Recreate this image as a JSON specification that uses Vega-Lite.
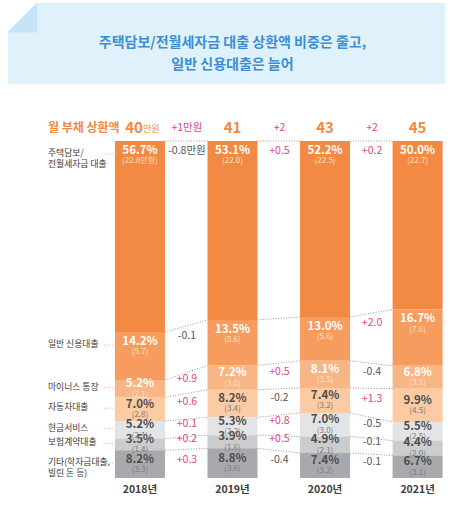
{
  "$schema": "https://vega.github.io/schema/vega-lite/v6.json",
  "width": 450,
  "height": 509,
  "autosize": {"type": "none"},
  "padding": 0,
  "datasets": {
    "rows": [
      {"year": 2018, "order": 1, "cat": "주택담보/\n전월세자금 대출", "share": 56.7, "amt": 22.8, "chg": -0.8},
      {"year": 2018, "order": 2, "cat": "일반 신용대출", "share": 14.2, "amt": 5.7, "chg": -0.1},
      {"year": 2018, "order": 3, "cat": "마이너스 통장", "share": 5.2, "amt": 2.1, "chg": 0.9},
      {"year": 2018, "order": 4, "cat": "자동차대출", "share": 7.0, "amt": 2.8, "chg": 0.6},
      {"year": 2018, "order": 5, "cat": "현금서비스", "share": 5.2, "amt": 2.1, "chg": 0.1},
      {"year": 2018, "order": 6, "cat": "보험계약대출", "share": 3.5, "amt": 1.4, "chg": 0.2},
      {"year": 2018, "order": 7, "cat": "기타(학자금대출,\n빌린 돈 등)", "share": 8.2, "amt": 3.3, "chg": 0.3},
      {"year": 2019, "order": 1, "cat": "주택담보/\n전월세자금 대출", "share": 53.1, "amt": 22.0, "chg": 0.5},
      {"year": 2019, "order": 2, "cat": "일반 신용대출", "share": 13.5, "amt": 5.6, "chg": null},
      {"year": 2019, "order": 3, "cat": "마이너스 통장", "share": 7.2, "amt": 3.0, "chg": 0.5},
      {"year": 2019, "order": 4, "cat": "자동차대출", "share": 8.2, "amt": 3.4, "chg": -0.2},
      {"year": 2019, "order": 5, "cat": "현금서비스", "share": 5.3, "amt": 2.2, "chg": 0.8},
      {"year": 2019, "order": 6, "cat": "보험계약대출", "share": 3.9, "amt": 1.6, "chg": 0.5},
      {"year": 2019, "order": 7, "cat": "기타(학자금대출,\n빌린 돈 등)", "share": 8.8, "amt": 3.6, "chg": -0.4},
      {"year": 2020, "order": 1, "cat": "주택담보/\n전월세자금 대출", "share": 52.2, "amt": 22.5, "chg": 0.2},
      {"year": 2020, "order": 2, "cat": "일반 신용대출", "share": 13.0, "amt": 5.6, "chg": 2.0},
      {"year": 2020, "order": 3, "cat": "마이너스 통장", "share": 8.1, "amt": 3.5, "chg": -0.4},
      {"year": 2020, "order": 4, "cat": "자동차대출", "share": 7.4, "amt": 3.2, "chg": 1.3},
      {"year": 2020, "order": 5, "cat": "현금서비스", "share": 7.0, "amt": 3.0, "chg": -0.5},
      {"year": 2020, "order": 6, "cat": "보험계약대출", "share": 4.9, "amt": 2.1, "chg": -0.1},
      {"year": 2020, "order": 7, "cat": "기타(학자금대출,\n빌린 돈 등)", "share": 7.4, "amt": 3.2, "chg": -0.1},
      {"year": 2021, "order": 1, "cat": "주택담보/\n전월세자금 대출", "share": 50.0, "amt": 22.7, "chg": null},
      {"year": 2021, "order": 2, "cat": "일반 신용대출", "share": 16.7, "amt": 7.6, "chg": null},
      {"year": 2021, "order": 3, "cat": "마이너스 통장", "share": 6.8, "amt": 3.1, "chg": null},
      {"year": 2021, "order": 4, "cat": "자동차대출", "share": 9.9, "amt": 4.5, "chg": null},
      {"year": 2021, "order": 5, "cat": "현금서비스", "share": 5.5, "amt": 2.5, "chg": null},
      {"year": 2021, "order": 6, "cat": "보험계약대출", "share": 4.4, "amt": 2.0, "chg": null},
      {"year": 2021, "order": 7, "cat": "기타(학자금대출,\n빌린 돈 등)", "share": 6.7, "amt": 3.1, "chg": null}
    ],
    "header": [
      {"year": 2018, "total": 40, "chg": 1},
      {"year": 2019, "total": 41, "chg": 2},
      {"year": 2020, "total": 43, "chg": 2},
      {"year": 2021, "total": 45, "chg": null}
    ]
  },
  "layer": [
    {
      "data": {"values": [{}]},
      "layer": [
        {
          "mark": {"type": "rect", "color": "#dff1fb"},
          "encoding": {
            "x": {"datum": 2016.574, "type": "quantitative", "scale": {"domain": [2016.542, 2021.296], "nice": false, "zero": false}},
            "x2": {"datum": 2021.296},
            "y": {"datum": -40.95, "type": "quantitative", "scale": {"domain": [-41.84, 109.2], "reverse": true, "nice": false, "zero": false}},
            "y2": {"datum": -16.91}
          }
        },
        {
          "mark": {"type": "point", "shape": "M-1,-1L1,-1L-1,1Z", "size": 900, "filled": true, "opacity": 1, "color": "white", "strokeWidth": 0},
          "encoding": {"x": {"datum": 2016.727, "type": "quantitative"}, "y": {"datum": -36.65, "type": "quantitative"}}
        },
        {
          "mark": {"type": "point", "shape": "M-1,1L1,-1L1,1Z", "size": 900, "filled": true, "opacity": 1, "color": "#c4e5f7", "strokeWidth": 0},
          "encoding": {"x": {"datum": 2016.727, "type": "quantitative"}, "y": {"datum": -36.65, "type": "quantitative"}}
        },
        {
          "mark": {"type": "text", "fontWeight": "bold", "fontSize": 14, "color": "#3b8fd5", "lineBreak": "\n", "lineHeight": 22, "align": "center", "baseline": "middle"},
          "encoding": {
            "x": {"datum": 2019.0, "type": "quantitative"},
            "y": {"datum": -29.08, "type": "quantitative"},
            "text": {"value": "주택담보/전월세자금 대출 상환액 비중은 줄고,\n일반 신용대출은 늘어"}
          }
        }
      ]
    },
    {
      "data": {"name": "rows"},
      "transform": [
        {"stack": "share", "groupby": ["year"], "sort": [{"field": "order", "order": "ascending"}], "as": ["s0", "s1"]},
        {"calculate": "(datum.s0 + datum.s1) / 2", "as": "mid"},
        {"calculate": "datum.order <= 2 ? datum.s0 + 3 : datum.mid - 1.2", "as": "ly"},
        {
          "window": [
            {"op": "lead", "field": "s0", "as": "ns0"},
            {"op": "lead", "field": "ly", "as": "nly"},
            {"op": "lead", "field": "year", "as": "nyear"}
          ],
          "groupby": ["order"],
          "sort": [{"field": "year", "order": "ascending"}]
        },
        {"calculate": "(datum.ly + datum.nly) / 2", "as": "cy"},
        {"calculate": "format(datum.share, '.1f') + '%'", "as": "pct"},
        {"calculate": "'(' + format(datum.amt, '.1f') + (datum.year == 2018 && datum.order == 1 ? '만원' : '') + ')'", "as": "amtTxt"},
        {"calculate": "datum.chg == null ? '' : (datum.chg > 0 ? '+' : '-') + format(abs(datum.chg), '.1f') + (datum.year == 2018 && datum.order == 1 ? '만원' : '')", "as": "chgTxt"}
      ],
      "encoding": {
        "x": {"field": "year", "type": "quantitative"},
        "y": {"field": "ly", "type": "quantitative"}
      },
      "layer": [
        {
          "mark": {"type": "bar", "width": 50},
          "encoding": {
            "y": {"field": "s0", "type": "quantitative"},
            "y2": {"field": "s1"},
            "color": {
              "field": "order",
              "type": "ordinal",
              "scale": {"domain": [1, 2, 3, 4, 5, 6, 7], "range": ["#f38a43", "#f69c5e", "#f8b585", "#fccba3", "#e3e4e6", "#cbcccd", "#a8a9ac"]},
              "legend": null
            }
          }
        },
        {
          "transform": [{"filter": "datum.nyear != null"}],
          "mark": {"type": "rule", "xOffset": 25, "x2Offset": -25, "color": "#8c8c8c", "strokeWidth": 0.9, "strokeDash": [1, 1.6]},
          "encoding": {
            "x2": {"field": "nyear"},
            "y": {"field": "s0", "type": "quantitative"},
            "y2": {"field": "ns0"}
          }
        },
        {
          "transform": [{"filter": "datum.year == 2018"}],
          "mark": {"type": "rule", "xOffset": -36, "x2Offset": -26, "yOffset": 3, "color": "#f4a36a", "strokeWidth": 0.9, "strokeDash": [1, 1.6]},
          "encoding": {
            "x2": {"field": "year"}
          }
        },
        {
          "mark": {"type": "text", "fontWeight": "bold", "fontSize": 11.5, "baseline": "middle", "dy": -0.5},
          "encoding": {
            "text": {"field": "pct"},
            "color": {"condition": {"test": "datum.order <= 3", "value": "#ffffff"}, "value": "#4d4d4d"}
          }
        },
        {
          "mark": {"type": "text", "fontSize": 8, "baseline": "middle", "dy": 10},
          "encoding": {
            "text": {"field": "amtTxt"},
            "color": {"condition": {"test": "datum.order <= 3", "value": "#fde2cc"}, "value": "#7a7a7a"}
          }
        },
        {
          "transform": [{"filter": "datum.chg != null"}],
          "mark": {"type": "text", "fontSize": 10.5, "baseline": "middle", "dx": 47},
          "encoding": {
            "y": {"field": "cy", "type": "quantitative"},
            "text": {"field": "chgTxt"},
            "color": {"condition": {"test": "datum.chg > 0", "value": "#e0478b"}, "value": "#555555"}
          }
        },
        {
          "transform": [{"filter": "datum.year == 2018"}],
          "mark": {"type": "text", "fontSize": 8.8, "align": "left", "baseline": "top", "dx": -92, "dy": -2, "lineBreak": "\n", "lineHeight": 11, "color": "#3a3a3a"},
          "encoding": {
            "text": {"field": "cat"}
          }
        }
      ]
    },
    {
      "data": {"name": "header"},
      "encoding": {
        "x": {"field": "year", "type": "quantitative"},
        "y": {"datum": 0, "type": "quantitative"}
      },
      "layer": [
        {
          "transform": [{"filter": "datum.year != 2018"}],
          "mark": {"type": "text", "fontWeight": "bold", "fontSize": 15, "baseline": "middle", "dy": -13, "color": "#f08a3e"},
          "encoding": {"text": {"field": "total"}}
        },
        {
          "transform": [{"filter": "datum.year == 2018"}],
          "mark": {"type": "text", "fontWeight": "bold", "fontSize": 15, "align": "right", "baseline": "middle", "dx": 3, "dy": -13, "color": "#f08a3e"},
          "encoding": {"text": {"field": "total"}}
        },
        {
          "transform": [{"filter": "datum.year == 2018"}],
          "mark": {"type": "text", "fontSize": 9, "align": "left", "baseline": "middle", "dx": 3, "dy": -12, "color": "#f08a3e"},
          "encoding": {"text": {"value": "만원"}}
        },
        {
          "transform": [{"filter": "datum.year == 2018"}],
          "mark": {"type": "text", "fontWeight": "bold", "fontSize": 12, "align": "left", "baseline": "middle", "dx": -92, "dy": -13, "color": "#f08a3e"},
          "encoding": {"text": {"value": "월 부채 상환액"}}
        },
        {
          "transform": [
            {"filter": "datum.chg != null"},
            {"calculate": "'+' + datum.chg + (datum.year == 2018 ? '만원' : '')", "as": "chgTxt"}
          ],
          "mark": {"type": "text", "fontSize": 10.5, "baseline": "middle", "dx": 47, "dy": -13, "color": "#e0478b"},
          "encoding": {"text": {"field": "chgTxt"}}
        },
        {
          "transform": [{"calculate": "datum.year + '년'", "as": "yl"}],
          "mark": {"type": "text", "fontWeight": "bold", "fontSize": 10.5, "baseline": "middle", "color": "#3d3d3d"},
          "encoding": {
            "y": {"datum": 103.56, "type": "quantitative"},
            "text": {"field": "yl"}
          }
        }
      ]
    }
  ],
  "config": {
    "view": {"stroke": null},
    "axis": {"disable": true},
    "legend": {"disable": true},
    "font": "Noto Sans CJK KR"
  }
}
